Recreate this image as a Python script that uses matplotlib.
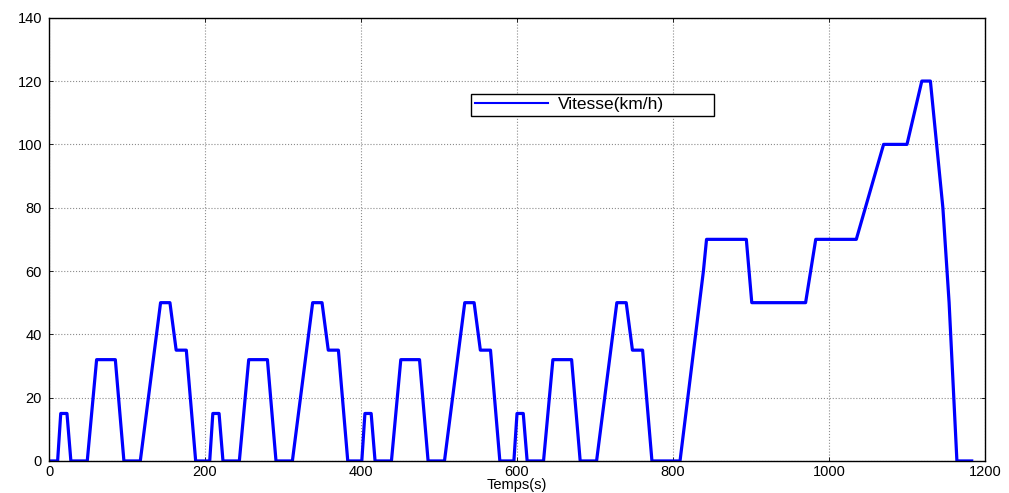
import numpy as np
import matplotlib
matplotlib.use("Agg")
import matplotlib.pyplot as plt

plt.rcParams['font.family'] = ['Liberation Sans', 'DejaVu Sans']

# urban cycle (ECE-15), repeated 4 times
ece_time = [0, 11, 15, 23, 28, 49, 61, 85, 96, 117, 143, 155, 163, 176, 188, 195]
ece_speed = [0, 0, 15, 15, 0, 0, 32, 32, 0, 0, 50, 50, 35, 35, 0, 0]
cycle_starts = [0, 195, 390, 585]

# extra-urban part (EUDC)
eudc_time = [780, 809, 819, 829, 839, 843, 894, 901, 970, 983, 1035, 1070,
             1100, 1119, 1130, 1146, 1154, 1164, 1183]
eudc_speed = [0, 0, 20, 40, 60, 70, 70, 50, 50, 70, 70, 100,
              100, 120, 120, 80, 50, 0, 0]

x_ticks = [0, 200, 400, 600, 800, 1000, 1200]
y_ticks = [0, 20, 40, 60, 80, 100, 120, 140]

# build the full profile
t = []
v = []
for start in cycle_starts:
    t += [start + s for s in ece_time]
    v += ece_speed
t += eudc_time
v += eudc_speed

fig = plt.figure(figsize=(10.09, 4.93), dpi=100)
ax = fig.add_axes([0.0486, 0.065, 0.9276, 0.899])

ax.plot(t, v, color=(0, 0, 1), linewidth=2.3, label='Vitesse(km/h)')

ax.set_xlim(0, 1200)
ax.set_ylim(0, 140)
ax.set_xticks(x_ticks)
ax.set_yticks(y_ticks)
ax.grid(True, color='0.55', linestyle=':', linewidth=0.8)
ax.tick_params(direction='in', length=3, width=0.6, top=True, right=True,
               labelsize=10.5, pad=5)
ax.tick_params(axis='x', pad=3)
for sp in ax.spines.values():
    sp.set_linewidth(1.0)

ax.set_xlabel('Temps(s)', fontsize=10.5)
ax.xaxis.set_label_coords(0.5, -0.038)

leg = ax.legend(loc='lower left', bbox_to_anchor=(0.451, 0.779, 0.259, 0.054),
                mode='expand', fontsize=12.5, handlelength=4.2, borderpad=0.2,
                handletextpad=0.6, fancybox=False, framealpha=1, borderaxespad=0)
leg.get_frame().set_edgecolor('black')
leg.get_frame().set_linewidth(1.0)
for line in leg.get_lines():
    line.set_linewidth(1.5)

fig.savefig('out.png', dpi=100)
